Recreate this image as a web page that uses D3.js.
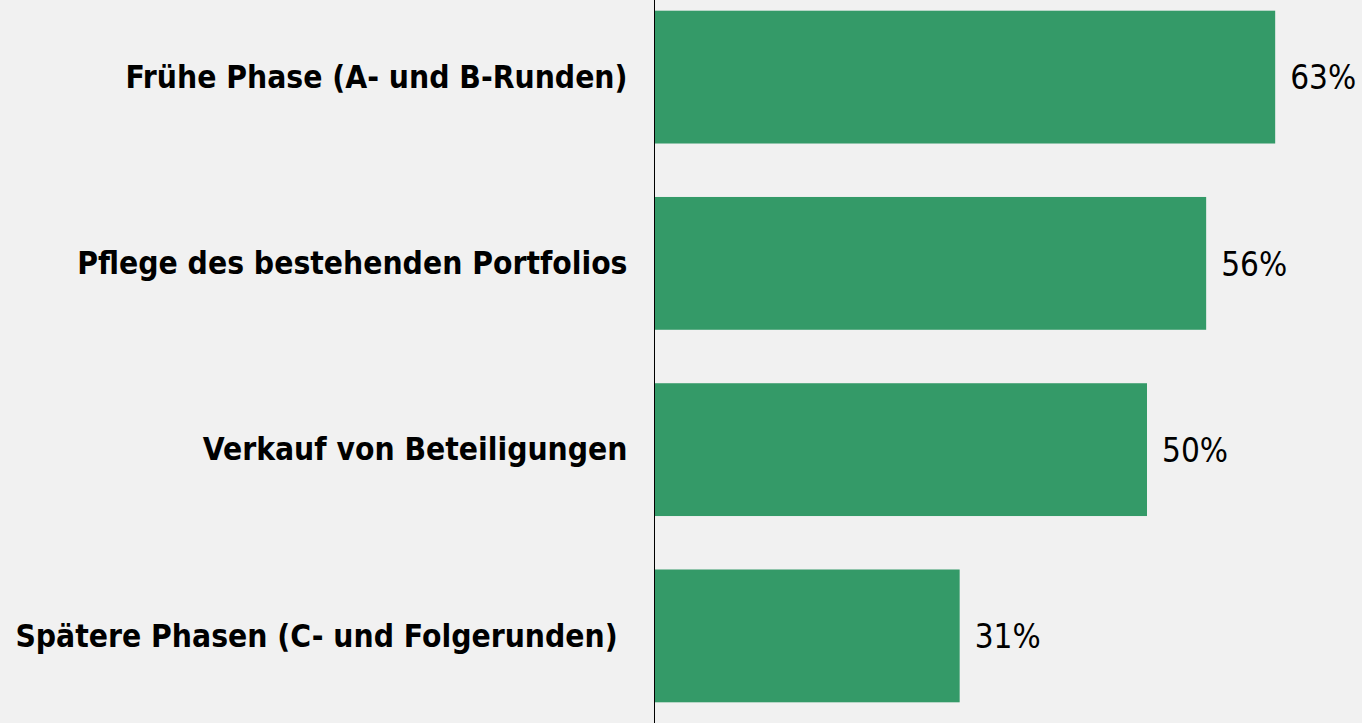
<!DOCTYPE html>
<html lang="en">
<head>
  <meta charset="UTF-8" />
  <title>Balkendiagramm</title>
  <script src="https://cdnjs.cloudflare.com/ajax/libs/d3/7.8.2/d3.min.js"></script>
  <style>
    body { margin: 0; padding: 0; background: #f1f1f1; }
    svg { display: block; background: #f1f1f1; }
    .cat { font-family: "DejaVu Sans Condensed", "DejaVu Sans", sans-serif; font-weight: bold; font-size: 31.5px; fill: #000; white-space: pre; }
    .val { font-family: "DejaVu Sans Condensed", "DejaVu Sans", sans-serif; font-size: 33px; fill: #000; }
  </style>
</head>
<body>
<svg id="chart"></svg>
<script>
// data
const categories = [
  "Frühe Phase (A- und B-Runden)",
  "Pflege des bestehenden Portfolios",
  "Verkauf von Beteiligungen",
  "Spätere Phasen (C- und Folgerunden) "
];
const values = [63, 56, 50, 31];
const labels = ["63%", "56%", "50%", "31%"];

const width = 1362, height = 723;
const axisX = 654;

const svg = d3.select("#chart").attr("width", width).attr("height", height);

const x = d3.scaleLinear().domain([0, 10]).range([axisX, axisX + 98.6]);
const y = d3.scaleBand().domain(categories).range([10.7, 702.3]).paddingInner(0.287).paddingOuter(0);

const data = categories.map((c, i) => ({ cat: c, value: values[i], label: labels[i] }));

svg.selectAll("rect.bar")
  .data(data)
  .enter().append("rect")
  .attr("class", "bar")
  .attr("x", x(0))
  .attr("y", d => y(d.cat))
  .attr("width", d => x(d.value) - x(0))
  .attr("height", y.bandwidth())
  .attr("fill", "#349a68");

// value labels
svg.selectAll("text.val")
  .data(data)
  .enter().append("text")
  .attr("class", "val")
  .attr("x", d => x(d.value) + 15)
  .attr("y", d => y(d.cat) + y.bandwidth() / 2)
  .attr("dy", "0.37em")
  .text(d => d.label);

// category axis
const axis = svg.append("g")
  .attr("transform", `translate(${axisX + 0.5},0)`)
  .call(d3.axisLeft(y).tickSize(0).tickPadding(27));
axis.select(".domain").remove();
axis.append("line").attr("y1", 0).attr("y2", height).attr("stroke", "#000").attr("stroke-width", 1);
axis.selectAll(".tick text")
  .attr("class", "cat")
  .attr("font-family", null).attr("font-size", null)
  .attr("dy", "0.34em");
</script>
</body>
</html>
